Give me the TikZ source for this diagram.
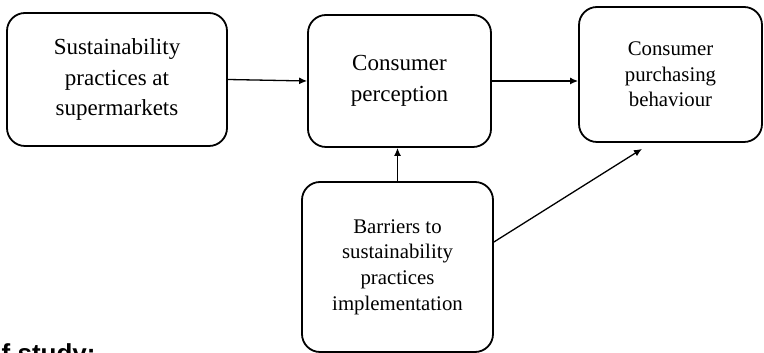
\documentclass[tikz,border=0pt]{standalone}
\usepackage{fontspec}
\setmainfont{Liberation Serif}
\newfontfamily\headfont{Liberation Sans}
\usetikzlibrary{arrows.meta,calc,positioning}

\tikzset{
  box/.style={draw, line width=1.8pt, rounded corners=18pt, align=center, inner sep=0pt},
  bigtext/.style={font=\fontsize{23}{30.5}\selectfont},
  smalltext/.style={font=\fontsize{20.8}{25.7}\selectfont},
  link/.style={line width=1.3pt, -{Latex[length=8pt,width=7pt]}}
}

\begin{document}
\begin{tikzpicture}[x=1pt,y=1pt]
  \useasboundingbox (0,0) rectangle (764,353);

  % top row: practices -> perception -> behaviour
  \node[box,bigtext,minimum width=220pt,minimum height=133pt] (sust) at (117,273.5)
    {Sustainability\\practices at\\supermarkets};
  \node[box,bigtext,minimum width=183pt,minimum height=132pt] (perc) at (399.5,272)
    {Consumer\\perception};
  \node[box,smalltext,minimum width=183pt,minimum height=135pt] (behav) at (670.5,278.5)
    {Consumer\\purchasing\\behaviour};

  % barriers below the middle box
  \node[box,smalltext,minimum width=191pt,minimum height=170pt] (barr) at (397.5,86)
    {Barriers to\\sustainability\\practices\\implementation};

  \draw[link] (sust.east) -- (perc.west);
  \draw[link] (perc.east) -- (behav.west |- perc.east);
  \draw[link] (barr.north) -- (barr.north |- perc.south);

  % diagonal link ends just short of the behaviour box
  \coordinate (diagstart) at ($(barr.east)+(0,25)$);
  \coordinate (diagend) at ($(behav.south)+(-28.5,-6)$);
  \draw[link] (diagstart) -- (diagend);

  % heading cut off by the lower edge
  \node[anchor=base west, inner sep=0pt, font=\headfont\bfseries\fontsize{26}{30}\selectfont] (caption) at (1.5,-9.5)
    {f study:};
\end{tikzpicture}
\end{document}
